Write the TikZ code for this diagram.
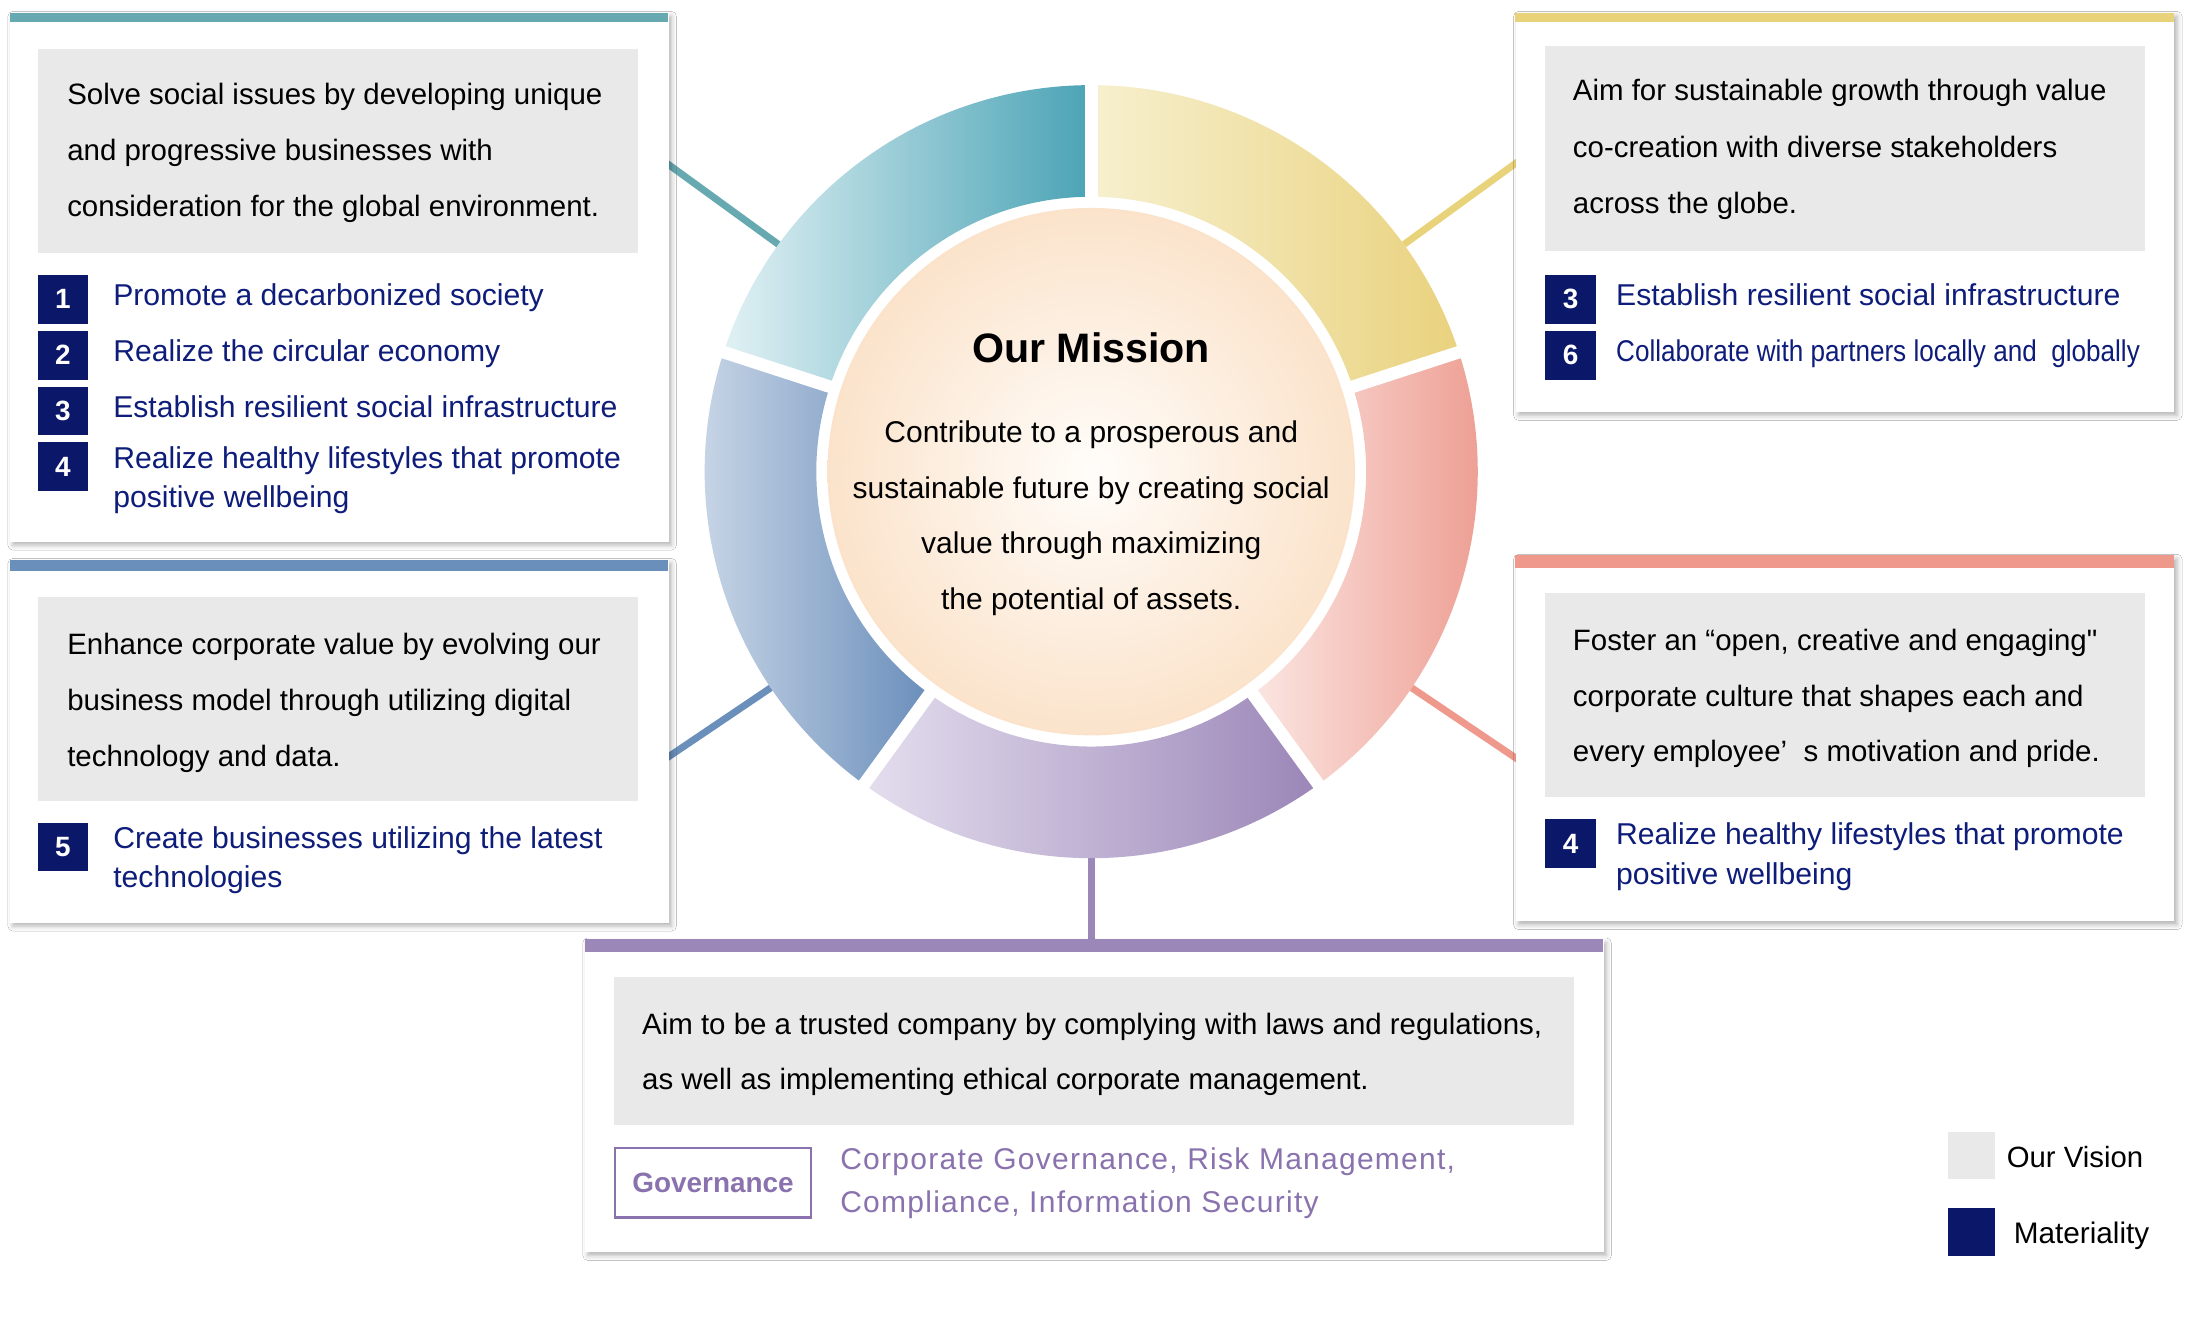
\documentclass[tikz,border=0pt]{standalone}
\usepackage{fontspec}
\setmainfont{Liberation Sans}
\newfontfamily\condfont[FakeStretch=0.87]{Liberation Sans}
\newfontfamily\spacedfont[LetterSpace=4.2]{Liberation Sans}
\newfontfamily\rawfont[Ligatures=TeXOff]{Liberation Sans}
\usetikzlibrary{shadows.blur}
\definecolor{tealc}{HTML}{66A9B1}
\definecolor{tealL}{HTML}{E1F1F4}
\definecolor{tealD}{HTML}{4AA3B5}
\definecolor{yelc}{HTML}{E8D27A}
\definecolor{yelL}{HTML}{F7F0CF}
\definecolor{yelD}{HTML}{E9D27E}
\definecolor{redc}{HTML}{EE998C}
\definecolor{redL}{HTML}{FBE6E2}
\definecolor{redD}{HTML}{EC968A}
\definecolor{purpc}{HTML}{9B87B8}
\definecolor{purpL}{HTML}{E4DEEE}
\definecolor{purpD}{HTML}{9B86B8}
\definecolor{bluec}{HTML}{6B8FBB}
\definecolor{blueL}{HTML}{D3DEEB}
\definecolor{blueD}{HTML}{6A8EBB}
\definecolor{panelgrey}{HTML}{E9E9E9}
\definecolor{navy}{HTML}{0B1769}
\definecolor{navytext}{HTML}{0E1C7A}
\definecolor{purptext}{HTML}{8A72AE}
\definecolor{discin}{HTML}{FFFDFA}
\definecolor{discout}{HTML}{FBE3CB}
\begin{document}
\begin{tikzpicture}[x=1pt,y=-1pt,
  card/.style={fill=white, draw=none, inner sep=0pt, anchor=north west,
    blur shadow={shadow xshift=2pt, shadow yshift=-2.5pt, shadow blur radius=3.5pt, shadow opacity=30}},
  numbox/.style={fill=navy, text=white, font=\fontsize{20}{20}\selectfont\bfseries, inner sep=0pt,
    minimum width=36pt, minimum height=35pt},
  body/.style={anchor=base west, inner sep=0pt, font=\fontsize{21.1}{26}\selectfont, text=black},
  mission/.style={anchor=base, inner sep=0pt, font=\fontsize{21.5}{26}\selectfont, text=black},
  item/.style={anchor=base west, inner sep=0pt, font=\fontsize{21.6}{26}\selectfont, text=navytext},
  gtext/.style={anchor=base west, inner sep=0pt, font=\fontsize{21.5}{26}\selectfont\spacedfont, text=purptext},
  conn/.style={line width=5pt},
  gapline/.style={draw=white, line width=9pt},
]
\useasboundingbox (0,0) rectangle (1568,947);
\fill[white] (0,0) rectangle (1568,947);

% ---------- ring ----------
\begin{scope}[xshift=782pt, yshift=-338pt, x=1pt, y=1pt]
  \coordinate (tA) at (144:277); \coordinate (tB) at (144:385);
  \coordinate (yA) at (36:277);  \coordinate (yB) at (36:385);
  \coordinate (rA) at (-34:277); \coordinate (rB) at (-34:380);
  \coordinate (bA) at (-146:277); \coordinate (bB) at (-146:380);
  \coordinate (pA) at (-90:277); \coordinate (pB) at (-90:340);
  \draw[conn, draw=tealc] (tA) -- (tB);
  \draw[conn, draw=yelc] (yA) -- (yB);
  \draw[conn, draw=redc] (rA) -- (rB);
  \draw[conn, draw=bluec] (bA) -- (bB);
  \draw[conn, draw=purpc] (pA) -- (pB);

  \shade[left color=tealL, right color=tealD] (90:197) arc[start angle=90, end angle=162, radius=197] -- (162:277) arc[start angle=162, end angle=90, radius=277] -- cycle;
  \shade[left color=yelL, right color=yelD] (18:197) arc[start angle=18, end angle=90, radius=197] -- (90:277) arc[start angle=90, end angle=18, radius=277] -- cycle;
  \shade[left color=redL, right color=redD] (-54:197) arc[start angle=-54, end angle=18, radius=197] -- (18:277) arc[start angle=18, end angle=-54, radius=277] -- cycle;
  \shade[left color=purpL, right color=purpD] (-126:197) arc[start angle=-126, end angle=-54, radius=197] -- (-54:277) arc[start angle=-54, end angle=-126, radius=277] -- cycle;
  \shade[left color=blueL, right color=blueD] (162:197) arc[start angle=162, end angle=234, radius=197] -- (234:277) arc[start angle=234, end angle=162, radius=277] -- cycle;
  \foreach \a in {90,18,-54,-126,162} { \draw[gapline] (\a:150) -- (\a:290); }
  \shade[inner color=discin, outer color=discout] (0,0) circle[radius=189];
\end{scope}

\node[mission, font=\fontsize{29.5}{32}\selectfont\bfseries] (mTitle) at (782,260) {Our Mission};
\node[mission] (m1) at (782,317) {Contribute to a prosperous and};
\node[mission] (m2) at (782,357) {sustainable future by creating social};
\node[mission] (m3) at (782,397) {value through maximizing};
\node[mission] (m4) at (782,437) {the potential of assets.};

% ---------- top-left card ----------
\node[card, minimum width=472pt, minimum height=379pt] (cardTL) at (7,9) {};
\fill[tealc] (7,9) rectangle (479,16);
\fill[panelgrey] (27,35) rectangle (457,181);
\node[body] (tl1) at (48,75) {Solve social issues by developing unique};
\node[body] (tl2) at (48,115) {and progressive businesses with};
\node[body] (tl3) at (48,155) {consideration for the global environment.};
\node[numbox] (tln1) at (45,214.5) {1};
\node[numbox] (tln2) at (45,254.5) {2};
\node[numbox] (tln3) at (45,294.5) {3};
\node[numbox] (tln4) at (45,334.5) {4};
\node[item] (tli1) at (81,219) {Promote a decarbonized society};
\node[item] (tli2) at (81,259) {Realize the circular economy};
\node[item] (tli3) at (81,299) {Establish resilient social infrastructure};
\node[item] (tli4) at (81,336) {Realize healthy lifestyles that promote};
\node[item] (tli4b) at (81,364) {positive wellbeing};

% ---------- mid-left card ----------
\node[card, minimum width=472pt, minimum height=260pt] (cardML) at (7,401) {};
\fill[bluec] (7,401) rectangle (479,409);
\fill[panelgrey] (27,428) rectangle (457,574);
\node[body] (ml1) at (48,469) {Enhance corporate value by evolving our};
\node[body] (ml2) at (48,509) {business model through utilizing digital};
\node[body] (ml3) at (48,549) {technology and data.};
\node[numbox] (mln5) at (45,607) {5};
\node[item] (mli5) at (81,608) {Create businesses utilizing the latest};
\node[item] (mli5b) at (81,636) {technologies};

% ---------- top-right card ----------
\node[card, minimum width=472pt, minimum height=286pt] (cardTR) at (1086,9) {};
\fill[yelc] (1086,9) rectangle (1558,16);
\fill[panelgrey] (1107,33) rectangle (1537,180);
\node[body] (tr1) at (1127,72) {Aim for sustainable growth through value};
\node[body] (tr2) at (1127,113) {co-creation with diverse stakeholders};
\node[body] (tr3) at (1127,153) {across the globe.};
\node[numbox, minimum width=37pt] (trn3) at (1125.5,214.5) {3};
\node[numbox, minimum width=37pt] (trn6) at (1125.5,254.5) {6};
\node[item] (tri3) at (1158,219) {Establish resilient social infrastructure};
\node[item, font=\fontsize{21.5}{26}\selectfont\condfont] (tri6) at (1158,259) {Collaborate with partners locally and\ \ globally};

% ---------- right-lower card ----------
\node[card, minimum width=472pt, minimum height=262pt] (cardRR) at (1086,398) {};
\fill[redc] (1086,398) rectangle (1558,407);
\fill[panelgrey] (1107,425) rectangle (1537,571);
\node[body] (rr1) at (1127,466) {Foster an “open, creative and engaging{\rawfont"}};
\node[body] (rr2) at (1127,506) {corporate culture that shapes each and};
\node[body] (rr3) at (1127,546) {every employee’\ \ s motivation and pride.};
\node[numbox, minimum width=37pt] (rrn4) at (1125.5,604.5) {4};
\node[item] (rri4) at (1158,605) {Realize healthy lifestyles that promote};
\node[item] (rri4b) at (1158,634) {positive wellbeing};

% ---------- bottom card ----------
\node[card, minimum width=730pt, minimum height=224pt] (cardB) at (419,673) {};
\fill[purpc] (419,673) rectangle (1149,682);
\fill[panelgrey] (440,700) rectangle (1128,806);
\node[body] (b1) at (460,741) {Aim to be a trusted company by complying with laws and regulations,};
\node[body] (b2) at (460,781) {as well as implementing ethical corporate management.};
\node[draw=purptext, line width=1.5pt, minimum width=141pt, minimum height=50pt, inner sep=0pt,
  text=purptext, font=\fontsize{20}{20}\selectfont\bfseries] (gov) at (511,847.5) {Governance};
\node[gtext] (g1) at (602,838) {Corporate Governance, Risk Management,};
\node[gtext] (g2) at (602,869) {Compliance, Information Security};

% ---------- legend ----------
\node[fill=panelgrey, minimum size=34pt, inner sep=0pt] (legV) at (1413,828) {};
\node[body, font=\fontsize{21}{26}\selectfont] (legVt) at (1438,837) {Our Vision};
\node[fill=navy, minimum size=34pt, inner sep=0pt] (legM) at (1413,883) {};
\node[body, font=\fontsize{21.3}{26}\selectfont] (legMt) at (1443,891) {Materiality};
\end{tikzpicture}
\end{document}
